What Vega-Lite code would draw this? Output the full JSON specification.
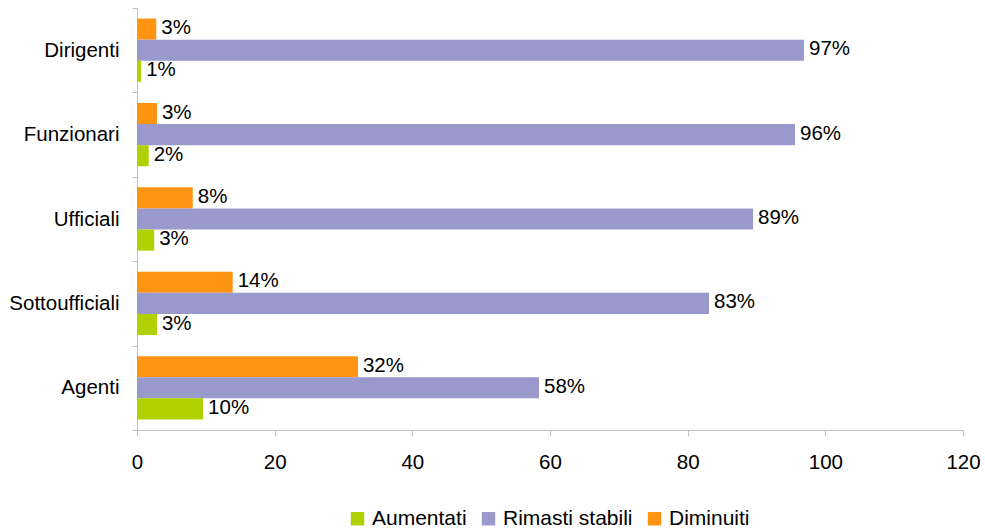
{
  "$schema": "https://vega.github.io/schema/vega-lite/v6.json",
  "width": 826,
  "height": 422,
  "autosize": "none",
  "padding": {"left": 137, "top": 8, "right": 22, "bottom": 101},
  "background": "white",
  "config": {
    "view": {"stroke": null},
    "font": "Liberation Sans",
    "axis": {"grid": false, "domainColor": "#c0c0c0", "tickColor": "#c0c0c0", "labelColor": "#000000", "labelFont": "Liberation Sans", "labelFontSize": 20.5, "title": null}
  },
  "data": {
    "values": [
      {"categoria": "Dirigenti", "serie": "Diminuiti", "valore": 2.8, "etichetta": "3%"},
      {"categoria": "Dirigenti", "serie": "Rimasti stabili", "valore": 96.9, "etichetta": "97%"},
      {"categoria": "Dirigenti", "serie": "Aumentati", "valore": 0.6, "etichetta": "1%"},
      {"categoria": "Funzionari", "serie": "Diminuiti", "valore": 2.9, "etichetta": "3%"},
      {"categoria": "Funzionari", "serie": "Rimasti stabili", "valore": 95.6, "etichetta": "96%"},
      {"categoria": "Funzionari", "serie": "Aumentati", "valore": 1.7, "etichetta": "2%"},
      {"categoria": "Ufficiali", "serie": "Diminuiti", "valore": 8.1, "etichetta": "8%"},
      {"categoria": "Ufficiali", "serie": "Rimasti stabili", "valore": 89.5, "etichetta": "89%"},
      {"categoria": "Ufficiali", "serie": "Aumentati", "valore": 2.5, "etichetta": "3%"},
      {"categoria": "Sottoufficiali", "serie": "Diminuiti", "valore": 13.9, "etichetta": "14%"},
      {"categoria": "Sottoufficiali", "serie": "Rimasti stabili", "valore": 83.1, "etichetta": "83%"},
      {"categoria": "Sottoufficiali", "serie": "Aumentati", "valore": 2.9, "etichetta": "3%"},
      {"categoria": "Agenti", "serie": "Diminuiti", "valore": 32.1, "etichetta": "32%"},
      {"categoria": "Agenti", "serie": "Rimasti stabili", "valore": 58.4, "etichetta": "58%"},
      {"categoria": "Agenti", "serie": "Aumentati", "valore": 9.6, "etichetta": "10%"}
    ]
  },
  "encoding": {
    "y": {
      "field": "categoria",
      "type": "nominal",
      "sort": ["Dirigenti", "Funzionari", "Ufficiali", "Sottoufficiali", "Agenti"],
      "scale": {"paddingInner": 0, "paddingOuter": 0},
      "axis": {"tickBand": "extent", "tickSize": 5, "labelPadding": 13, "domainColor": "#c0c0c0"}
    },
    "yOffset": {
      "field": "serie",
      "type": "nominal",
      "sort": ["Diminuiti", "Rimasti stabili", "Aumentati"],
      "scale": {"paddingInner": 0, "paddingOuter": 0.5}
    },
    "x": {
      "field": "valore",
      "type": "quantitative",
      "scale": {"domain": [0, 120], "nice": false},
      "axis": {"values": [0, 20, 40, 60, 80, 100, 120], "tickSize": 6, "labelPadding": 16, "labelFlush": false}
    }
  },
  "layer": [
    {
      "mark": {"type": "bar"},
      "encoding": {
        "color": {
          "field": "serie",
          "type": "nominal",
          "scale": {"domain": ["Aumentati", "Rimasti stabili", "Diminuiti"], "range": ["#B0D000", "#9999CC", "#FF9412"]},
          "legend": {
            "title": null,
            "orient": "none",
            "direction": "horizontal",
            "legendX": 210,
            "legendY": 500,
            "symbolType": "square",
            "symbolSize": 180,
            "symbolStrokeWidth": 0,
            "symbolOpacity": 1,
            "labelFontSize": 21,
            "labelFont": "Liberation Sans",
            "labelColor": "#000000",
            "labelOffset": 4,
            "columnPadding": 11
          }
        }
      }
    },
    {
      "mark": {"type": "text", "align": "left", "baseline": "middle", "dx": 5, "dy": -1, "fontSize": 20.5, "font": "Liberation Sans", "color": "#000000"},
      "encoding": {"text": {"field": "etichetta", "type": "nominal"}}
    }
  ]
}
